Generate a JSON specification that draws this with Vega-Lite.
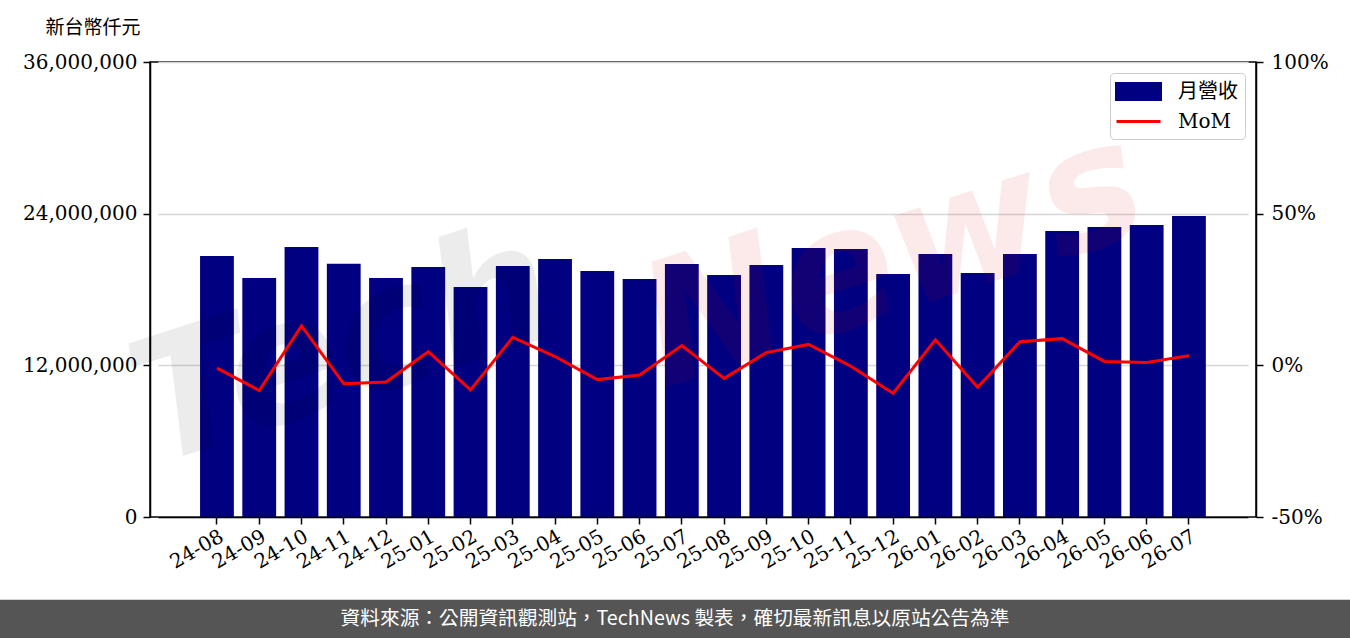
{
  "$schema": "https://vega.github.io/schema/vega-lite/v6.json",
  "description": "月營收與 MoM",
  "width": 1106,
  "height": 455,
  "autosize": {"type": "none"},
  "padding": {"left": 150, "top": 62, "right": 94, "bottom": 121},
  "background": "white",
  "data": {
    "values": [
      {"month": "24-08", "revenue": 20650000, "mom": -0.009},
      {"month": "24-09", "revenue": 18910000, "mom": -0.083},
      {"month": "24-10", "revenue": 21360000, "mom": 0.130},
      {"month": "24-11", "revenue": 20040000, "mom": -0.061},
      {"month": "24-12", "revenue": 18910000, "mom": -0.055},
      {"month": "25-01", "revenue": 19780000, "mom": 0.045},
      {"month": "25-02", "revenue": 18200000, "mom": -0.081},
      {"month": "25-03", "revenue": 19860000, "mom": 0.092},
      {"month": "25-04", "revenue": 20410000, "mom": 0.029},
      {"month": "25-05", "revenue": 19460000, "mom": -0.047},
      {"month": "25-06", "revenue": 18830000, "mom": -0.032},
      {"month": "25-07", "revenue": 20020000, "mom": 0.065},
      {"month": "25-08", "revenue": 19150000, "mom": -0.043},
      {"month": "25-09", "revenue": 19940000, "mom": 0.042},
      {"month": "25-10", "revenue": 21280000, "mom": 0.069},
      {"month": "25-11", "revenue": 21200000, "mom": -0.003},
      {"month": "25-12", "revenue": 19230000, "mom": -0.092},
      {"month": "26-01", "revenue": 20810000, "mom": 0.084},
      {"month": "26-02", "revenue": 19310000, "mom": -0.072},
      {"month": "26-03", "revenue": 20810000, "mom": 0.078},
      {"month": "26-04", "revenue": 22630000, "mom": 0.088},
      {"month": "26-05", "revenue": 22950000, "mom": 0.013},
      {"month": "26-06", "revenue": 23100000, "mom": 0.009},
      {"month": "26-07", "revenue": 23820000, "mom": 0.032}
    ]
  },
  "config": {
    "view": {"stroke": "black", "strokeWidth": 1.5},
    "axis": {
      "domainColor": "black",
      "domainWidth": 1.5,
      "tickColor": "black",
      "tickWidth": 1.5,
      "tickSize": 7,
      "labelColor": "black",
      "labelFont": "DejaVu Serif",
      "labelFontSize": 20
    }
  },
  "layer": [
    {
      "layer": [
        {
          "mark": {"type": "bar"},
          "encoding": {
            "x": {
              "field": "month",
              "type": "ordinal",
              "sort": null,
              "scale": {"paddingInner": 0.2, "paddingOuter": 1, "range": [7.8, 1098.1]},
              "axis": {
                "title": null,
                "labelAngle": -30,
                "labelAlign": "right",
                "labelBaseline": "top",
                "labelPadding": 2,
                "labelOverlap": false,
                "zindex": 1
              }
            },
            "y": {
              "field": "revenue",
              "type": "quantitative",
              "scale": {"domain": [0, 36000000], "nice": false},
              "axis": {
                "title": "新台幣仟元",
                "titleAngle": 0,
                "titleAlign": "left",
                "titleBaseline": "middle",
                "titleX": -105,
                "titleY": -35,
                "titleFont": "Noto Sans CJK TC",
                "titleFontSize": 19,
                "titleFontWeight": "normal",
                "titleColor": "black",
                "values": [0, 12000000, 24000000, 36000000],
                "format": ",d",
                "grid": true,
                "gridColor": "#d6d6d6",
                "gridWidth": 1.5,
                "labelPadding": 6
              }
            },
            "color": {
              "datum": "月營收",
              "type": "nominal",
              "scale": {"domain": ["月營收", "MoM"], "range": ["#000080", "#ff0000"]},
              "legend": {
                "title": null,
                "orient": "none",
                "legendX": 960,
                "legendY": 11,
                "fillColor": "rgba(255,255,255,0.8)",
                "strokeColor": "#cccccc",
                "cornerRadius": 4,
                "padding": 7,
                "labelFont": "DejaVu Serif, Noto Sans CJK TC",
                "labelFontSize": 20,
                "labelColor": "black",
                "symbolSize": 400,
                "symbolStrokeWidth": 3,
                "symbolOffset": 10,
                "labelOffset": 28,
                "rowPadding": 4,
                "encode": {
                  "symbols": {
                    "update": {
                      "shape": {"signal": "datum.value === 'MoM' ? 'M-2.2,0H2.2' : 'M-2.2,-0.8H2.2V0.8H-2.2Z'"},
                      "fill": {"signal": "datum.value === 'MoM' ? 'transparent' : '#000080'"},
                      "stroke": {"signal": "datum.value === 'MoM' ? '#ff0000' : 'transparent'"},
                      "strokeWidth": {"value": 3}
                    }
                  }
                }
              }
            }
          }
        },
        {
          "data": {"values": [{}]},
          "mark": {
            "type": "text",
            "text": "Tech",
            "font": "DejaVu Sans",
            "fontWeight": "bold",
            "fontStyle": "oblique",
            "fontSize": 170,
            "angle": -18,
            "align": "center",
            "baseline": "middle",
            "color": "black",
            "opacity": 0.07
          },
          "encoding": {
            "x": {"datum": "24-11", "type": "ordinal"},
            "y": {"datum": 13210000, "type": "quantitative"}
          }
        },
        {
          "data": {"values": [{}]},
          "mark": {
            "type": "text",
            "text": "News",
            "font": "DejaVu Sans",
            "fontWeight": "bold",
            "fontStyle": "oblique",
            "fontSize": 170,
            "angle": -18,
            "align": "center",
            "baseline": "middle",
            "color": "#e00000",
            "opacity": 0.08
          },
          "encoding": {
            "x": {"datum": "25-12", "type": "ordinal"},
            "y": {"datum": 20330000, "type": "quantitative"}
          }
        },
        {
          "data": {"values": [{}]},
          "mark": {"type": "rect", "color": "#555555"},
          "encoding": {
            "x": {"value": -150},
            "x2": {"value": 1200},
            "y": {"datum": -6550000, "type": "quantitative"},
            "y2": {"datum": -9800000}
          }
        },
        {
          "data": {"values": [{}]},
          "mark": {
            "type": "text",
            "text": "資料來源：公開資訊觀測站，TechNews 製表，確切最新訊息以原站公告為準",
            "font": "Noto Sans CJK TC",
            "fontSize": 19.7,
            "color": "white",
            "align": "center",
            "baseline": "middle",
            "dx": -28
          },
          "encoding": {
            "y": {"datum": -8070000, "type": "quantitative"}
          }
        }
      ]
    },
    {
      "mark": {"type": "line", "strokeWidth": 3},
      "encoding": {
        "x": {"field": "month", "type": "ordinal", "sort": null},
        "y": {
          "field": "mom",
          "type": "quantitative",
          "scale": {"domain": [-0.5, 1], "nice": false},
          "axis": {
            "orient": "right",
            "title": null,
            "values": [-0.5, 0, 0.5, 1],
            "labelExpr": "datum.value < 0 ? '-' + format(-datum.value, '.0%') : format(datum.value, '.0%')",
            "labelPadding": 8,
            "grid": false
          }
        },
        "color": {"datum": "MoM", "type": "nominal"}
      }
    }
  ],
  "resolve": {"scale": {"y": "independent"}}
}
